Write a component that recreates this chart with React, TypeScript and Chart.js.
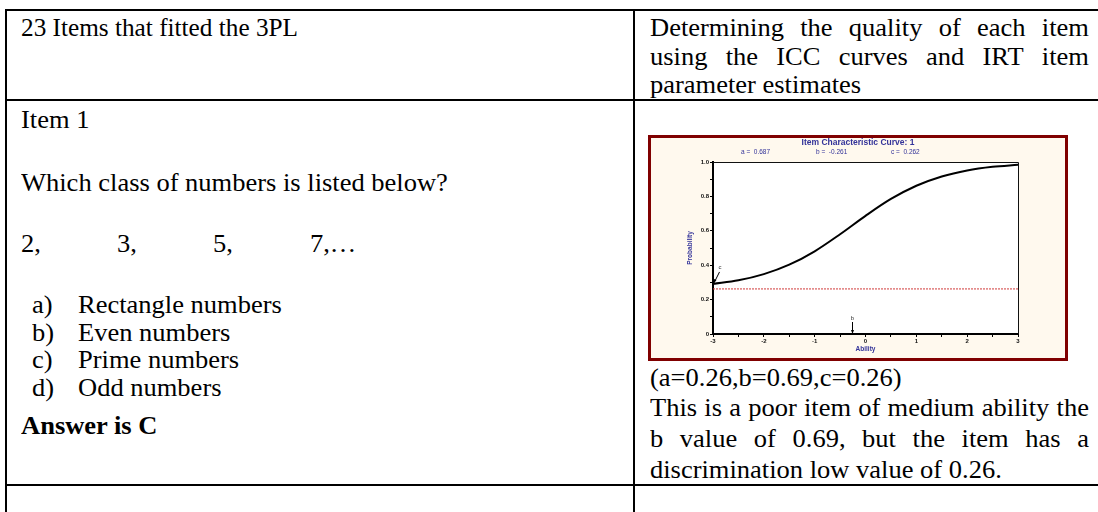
import React, { useEffect, useRef } from "react";
import { Chart, registerables } from "chart.js";

Chart.register(...registerables);

// ---------- chart data ----------
const abilityPoints = [-3, -2.5, -2, -1.5, -1, -0.5, 0, 0.5, 1, 1.5, 2, 2.5, 3];
const probabilityValues = [0.291, 0.312, 0.348, 0.403, 0.481, 0.58, 0.687, 0.785, 0.862, 0.916, 0.951, 0.972, 0.984];
const paramB = -0.261;
const paramC = 0.262;
const paramLabels = ["a =  0.687", "b =  -0.261", "c =  0.262"];
const yTickLabels = ["0", "0.2", "0.4", "0.6", "0.8", "1.0"];
const chartTitle = "Item Characteristic Curve: 1";
const xAxisTitle = "Ability";
const yAxisTitle = "Probability";

// ---------- document text ----------
const headerLeft = "23 Items that fitted the 3PL";
const headerRight = ["Determining the quality of each item", "using the ICC curves and IRT item", "parameter estimates"];
const itemLabel = "Item 1";
const question = "Which class of numbers is listed below?";
const sequenceTerms = ["2,", "3,", "5,", "7,\u2026"];
const optionLetters = ["a)", "b)", "c)", "d)"];
const optionTexts = ["Rectangle numbers", "Even numbers", "Prime numbers", "Odd numbers"];
const answerText = "Answer is C";
const commentLines = [
  "(a=0.26,b=0.69,c=0.26)",
  "This is a poor item of medium ability the",
  "b value of 0.69, but the item has a",
  "discrimination low value of 0.26.",
];

const SERIF = '"Liberation Serif", "Times New Roman", Times, serif';
const SANS = 'Arial, "Liberation Sans", Helvetica, sans-serif';
const FS = 25;
const SX = 1.06;
const BLUE = "#333399";

function TextLine(props: { x: number; baseline: number; text: string; bold?: boolean; width?: number; sx?: number }) {
  const { x, baseline, text, bold, width } = props;
  const sx = props.sx ?? SX;
  const top = baseline - 0.8375 * FS;
  const base: React.CSSProperties = {
    position: "absolute",
    left: x,
    top,
    fontFamily: SERIF,
    fontSize: FS,
    lineHeight: `${FS}px`,
    fontWeight: bold ? "bold" : "normal",
    whiteSpace: "nowrap",
    color: "#000",
    transform: `scaleX(${sx})`,
    transformOrigin: "0 0",
  };
  if (width) {
    const words = text.split(" ");
    return (
      <div style={{ ...base, width: width / sx, display: "flex", justifyContent: "space-between" }}>
        {words.map((w, i) => (
          <span key={i}>{w}</span>
        ))}
      </div>
    );
  }
  return <div style={base}>{text}</div>;
}

const iccPlugin = {
  id: "iccDecor",
  beforeDraw(chart: any) {
    const { ctx, chartArea: a } = chart;
    ctx.save();
    ctx.fillStyle = "#ffffff";
    ctx.fillRect(a.left, a.top, a.right - a.left, a.bottom - a.top);
    ctx.restore();
  },
  afterDraw(chart: any) {
    const { ctx, chartArea: a, scales } = chart;
    const xs = scales.x;
    const ys = scales.y;
    ctx.save();
    // thin top / right frame of plot
    ctx.strokeStyle = "#111";
    ctx.lineWidth = 1;
    ctx.beginPath();
    ctx.moveTo(a.left, a.top + 0.5);
    ctx.lineTo(a.right + 0.5, a.top + 0.5);
    ctx.lineTo(a.right + 0.5, a.bottom);
    ctx.stroke();

    // parameter labels
    ctx.fillStyle = BLUE;
    ctx.font = `6.5px ${SANS}`;
    ctx.textBaseline = "middle";
    ctx.textAlign = "left";
    paramLabels.forEach((t, i) => ctx.fillText(t, a.left + 28 + i * 75, 14));

    // c arrow at the lower asymptote end of the curve
    const cx = xs.getPixelForValue(abilityPoints[0]);
    const cy = ys.getPixelForValue(probabilityValues[0]);
    ctx.strokeStyle = "#000";
    ctx.fillStyle = "#000";
    ctx.lineWidth = 1;
    ctx.beginPath();
    ctx.moveTo(cx + 0.5, cy);
    ctx.lineTo(cx + 6.5, cy - 12);
    ctx.stroke();
    ctx.beginPath();
    ctx.moveTo(cx, cy);
    ctx.lineTo(cx + 3.5, cy - 4);
    ctx.lineTo(cx + 1, cy - 5);
    ctx.closePath();
    ctx.fill();
    ctx.fillStyle = "#333";
    ctx.font = `6px ${SANS}`;
    ctx.textAlign = "center";
    ctx.fillText("c", cx + 7, cy - 17);

    // b arrow at the difficulty
    const bx = Math.round(xs.getPixelForValue(paramB)) + 0.5;
    const by = ys.getPixelForValue(0);
    ctx.beginPath();
    ctx.moveTo(bx, by - 12);
    ctx.lineTo(bx, by);
    ctx.stroke();
    ctx.fillStyle = "#000";
    ctx.beginPath();
    ctx.moveTo(bx - 1.5, by - 4);
    ctx.lineTo(bx + 1.5, by - 4);
    ctx.lineTo(bx, by);
    ctx.closePath();
    ctx.fill();
    ctx.fillStyle = "#333";
    ctx.fillText("b", bx, by - 16);
    ctx.restore();
  },
};

function IccChart() {
  const ref = useRef<HTMLCanvasElement | null>(null);
  useEffect(() => {
    if (!ref.current) return;
    const curveData = abilityPoints.map((x, i) => ({ x, y: probabilityValues[i] }));
    const cLine = [
      { x: abilityPoints[0], y: paramC },
      { x: abilityPoints[abilityPoints.length - 1], y: paramC },
    ];
    const tickFont = { family: SANS, size: 6, weight: "bold" as const };
    const titleFont = { family: SANS, size: 6.5, weight: "bold" as const };
    const chart = new Chart(ref.current, {
      type: "line",
      data: {
        datasets: [
          {
            data: cLine,
            borderColor: "#d03a3a",
            borderWidth: 1,
            borderDash: [2, 1],
            pointRadius: 0,
            order: 2,
          },
          {
            data: curveData,
            borderColor: "#000",
            borderWidth: 2,
            pointRadius: 0,
            cubicInterpolationMode: "monotone",
            order: 1,
          },
        ],
      },
      options: {
        animation: false,
        responsive: false,
        maintainAspectRatio: false,
        layout: { padding: 0 },
        plugins: {
          legend: { display: false },
          tooltip: { enabled: false },
          title: {
            display: true,
            text: chartTitle,
            color: BLUE,
            font: { family: SANS, size: 8.5, weight: "bold", lineHeight: 1.2 },
            padding: { top: 0, bottom: 13.8 },
          },
        },
        scales: {
          x: {
            type: "linear",
            min: -3,
            max: 3,
            position: "bottom",
            afterFit: (s: any) => {
              s.height = 24;
            },
            ticks: {
              stepSize: 0.5,
              autoSkip: false,
              maxRotation: 0,
              padding: 1,
              color: "#111",
              font: tickFont,
              callback: (v: any) => (Number.isInteger(Number(v)) ? String(v) : ""),
            },
            grid: { drawOnChartArea: false, tickLength: 3, color: "#000", tickColor: "#000" },
            border: { display: true, color: "#000", width: 2 },
            title: { display: true, text: xAxisTitle, color: BLUE, font: titleFont, padding: { top: 0, bottom: 5.1 } },
          },
          y: {
            type: "linear",
            min: 0,
            max: 1,
            position: "left",
            afterFit: (s: any) => {
              s.width = 62;
            },
            ticks: {
              stepSize: 0.1,
              autoSkip: false,
              padding: 1,
              color: "#111",
              font: tickFont,
              callback: (v: any) => {
                const t = Math.round(Number(v) * 10);
                return t % 2 === 0 ? yTickLabels[t / 2] : "";
              },
            },
            grid: { drawOnChartArea: false, tickLength: 3, color: "#000", tickColor: "#000" },
            border: { display: true, color: "#000", width: 2 },
            title: { display: true, text: yAxisTitle, color: BLUE, font: titleFont, padding: { top: 35.1, bottom: 0 } },
          },
          yRight: {
            type: "linear",
            min: 0,
            max: 1,
            position: "right",
            display: true,
            grid: { display: false },
            ticks: { display: false },
            border: { display: false },
            afterFit: (s: any) => {
              s.width = 47;
            },
          },
        },
      },
      plugins: [iccPlugin],
    } as any);
    return () => chart.destroy();
  }, []);
  return (
    <div
      style={{
        position: "absolute",
        left: 648,
        top: 135,
        width: 420,
        height: 226,
        boxSizing: "border-box",
        border: "3px solid #800000",
        background: "#FFF9EE",
      }}
    >
      <canvas ref={ref} width={414} height={220} style={{ display: "block", width: 414, height: 220 }} />
    </div>
  );
}

function HLine(props: { top: number }) {
  return <div style={{ position: "absolute", left: 5, top: props.top, width: 1093, height: 2, background: "#000" }} />;
}
function VLine(props: { left: number }) {
  return <div style={{ position: "absolute", left: props.left, top: 9, width: 2, height: 503, background: "#000" }} />;
}

export default function App() {
  const seqX = [21, 117, 213, 310];
  const optBase = [313, 341, 368, 396];
  return (
    <div style={{ position: "relative", width: 1098, height: 512, overflow: "hidden", background: "#fff" }}>
      <style>{`html,body{margin:0;padding:0;overflow:hidden;background:#fff}`}</style>
      <HLine top={9} />
      <HLine top={99} />
      <HLine top={484} />
      <VLine left={5} />
      <VLine left={633} />

      <TextLine x={21} baseline={36} text={headerLeft} sx={1.01} />
      <TextLine x={650} baseline={36} text={headerRight[0]} width={439} />
      <TextLine x={650} baseline={65} text={headerRight[1]} width={439} />
      <TextLine x={650} baseline={93} text={headerRight[2]} />

      <TextLine x={21} baseline={128} text={itemLabel} />
      <TextLine x={21} baseline={191} text={question} />
      {sequenceTerms.map((t, i) => (
        <TextLine key={t} x={seqX[i]} baseline={252} text={t} />
      ))}
      {optionLetters.map((l, i) => (
        <React.Fragment key={l}>
          <TextLine x={32} baseline={optBase[i]} text={l} />
          <TextLine x={78} baseline={optBase[i]} text={optionTexts[i]} />
        </React.Fragment>
      ))}
      <TextLine x={21} baseline={434} text={answerText} bold />

      <IccChart />

      <TextLine x={650} baseline={386} text={commentLines[0]} />
      <TextLine x={650} baseline={416} text={commentLines[1]} width={439} />
      <TextLine x={650} baseline={447} text={commentLines[2]} width={439} />
      <TextLine x={650} baseline={478} text={commentLines[3]} />
    </div>
  );
}
